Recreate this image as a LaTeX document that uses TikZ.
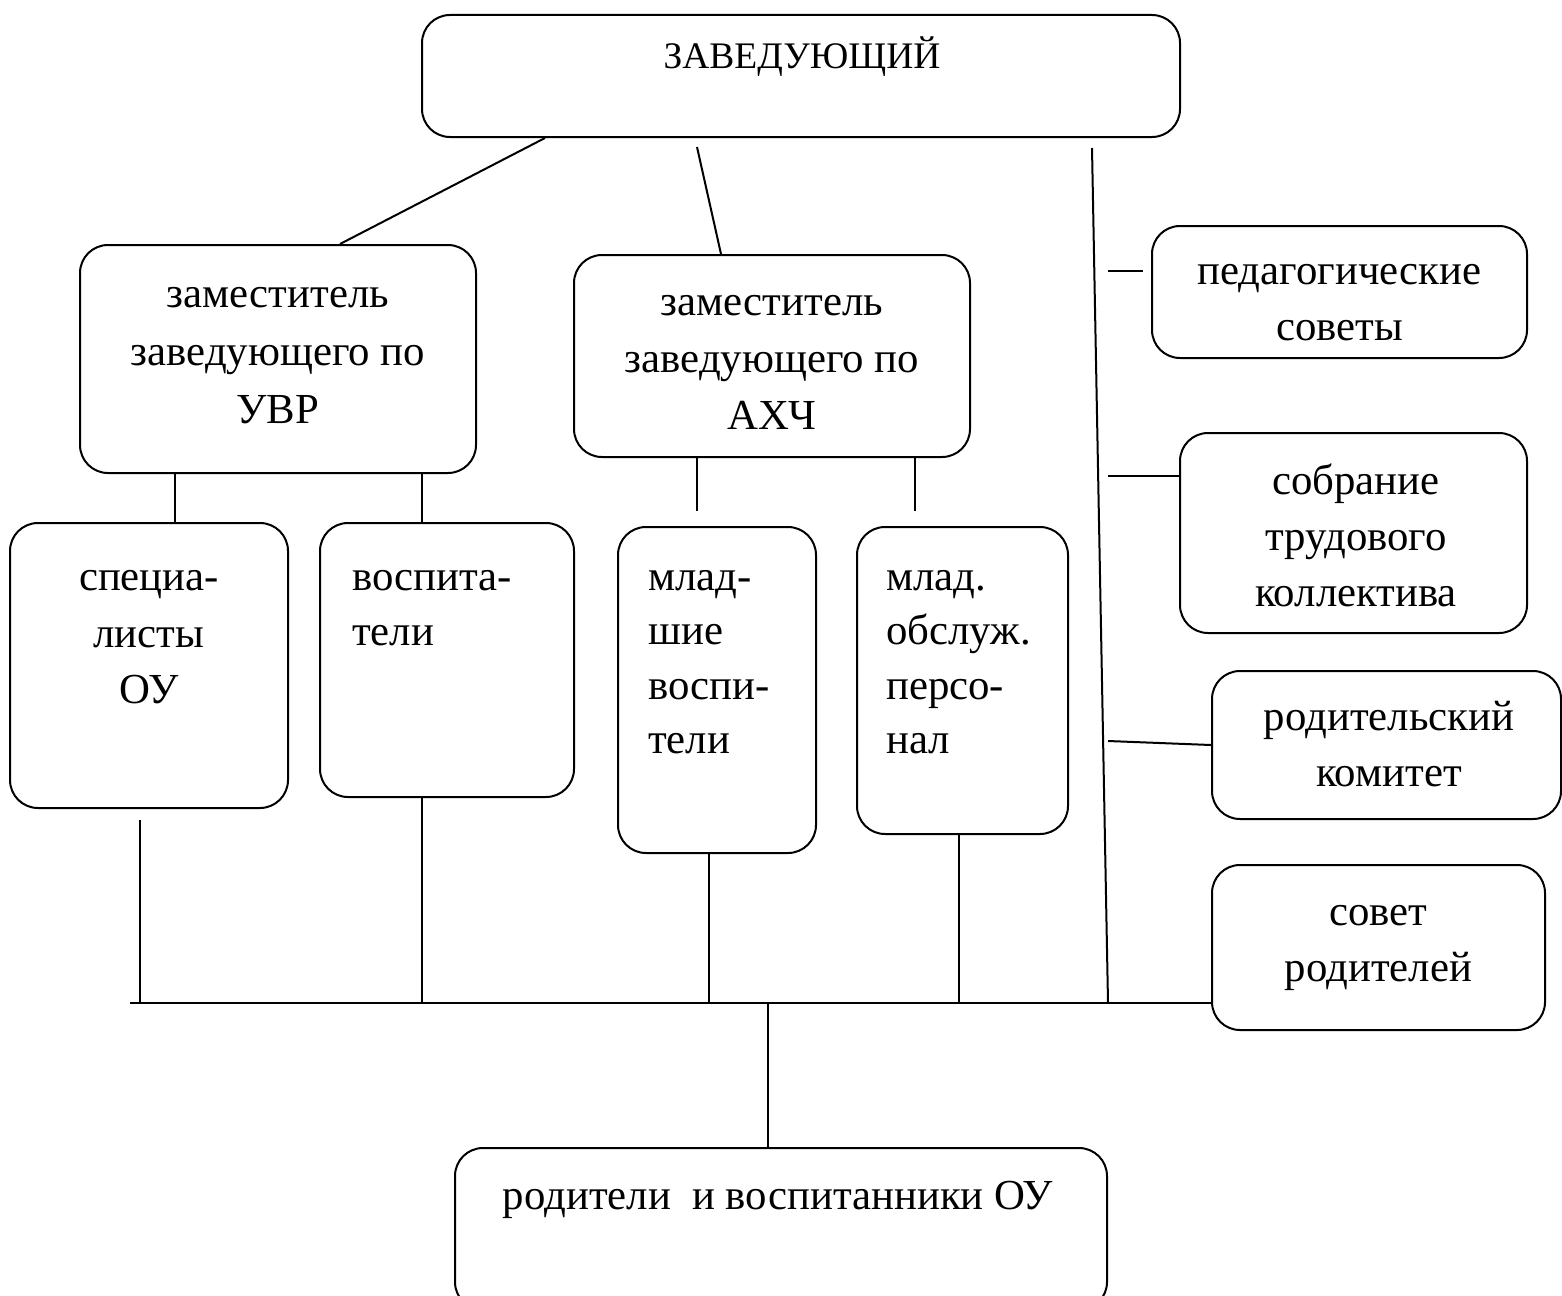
\documentclass[tikz,border=0pt]{standalone}
\usepackage{fontspec}
\setmainfont{Liberation Serif}
\begin{document}
\begin{tikzpicture}[x=1pt,y=-1pt,
  box/.style={draw,line width=2pt,rounded corners=28pt,inner sep=0pt},
  txt/.style={font=\fontsize{42.8}{#1}\selectfont,align=center,inner sep=0pt,anchor=north},
  txl/.style={font=\fontsize{42.8}{#1}\selectfont,align=left,inner sep=0pt,anchor=north west},
  ln/.style={line width=2pt}]
\useasboundingbox (0,0) rectangle (1562,1295);
% boxes
\node[box,minimum width=758pt,minimum height=122pt] (top) at (801,76) {};
\node[box,minimum width=396pt,minimum height=228pt] (uvr) at (278,359) {};
\node[box,minimum width=396pt,minimum height=202pt] (axch) at (772,356) {};
\node[box,minimum width=375pt,minimum height=132pt] (ped) at (1339.5,292) {};
\node[box,minimum width=347pt,minimum height=200pt] (sobr) at (1353.5,533) {};
\node[box,minimum width=349pt,minimum height=148pt] (rodkom) at (1386.5,745) {};
\node[box,minimum width=333pt,minimum height=165pt] (sovet) at (1378.5,947.5) {};
\node[box,minimum width=278pt,minimum height=285pt] (spec) at (149,665.5) {};
\node[box,minimum width=254pt,minimum height=274pt] (vosp) at (447,660) {};
\node[box,minimum width=198pt,minimum height=326pt] (mlad) at (717,690) {};
\node[box,minimum width=211pt,minimum height=307pt] (obsl) at (962.5,680.5) {};
\node[box,minimum width=652pt,minimum height=162pt] (bot) at (781,1229) {};
% texts
\node[txt=57,font=\fontsize{37.5}{57}\selectfont] (ttop) at (802,28) {\strut ЗАВЕДУЮЩИЙ};
\node[txt=58] (tuvr) at (278,267) {\strut заместитель\\\strut заведующего по\\\strut УВР};
\node[txt=57] (taxch) at (772,275) {\strut заместитель\\\strut заведующего по\\\strut АХЧ};
\node[txt=56] (tped) at (1339.5,245) {\strut педагогические\\\strut советы};
\node[txt=56] (tsobr) at (1356,455) {\strut собрание\\\strut трудового\\\strut коллектива};
\node[txt=56] (trodkom) at (1389,691) {\strut родительский\\\strut комитет};
\node[txt=56] (tsovet) at (1378.5,886) {\strut совет\\\strut родителей};
\node[txt=56.5] (tspec) at (149,551) {\strut специа-\\\strut листы\\\strut ОУ};
\node[txl=55] (tvosp) at (352,552) {\strut воспита-\\\strut тели};
\node[txl=54.5] (tmlad) at (648,552) {\strut млад-\\\strut шие\\\strut воспи-\\\strut тели};
\node[txl=54.5] (tobsl) at (886,552) {\strut млад.\\\strut обслуж.\\\strut персо-\\\strut нал};
\node[txt=56] (tbot) at (778,1170) {\strut родители\ \ и воспитанники ОУ};
% free-end coordinates
\coordinate (a1) at (697,147);
\coordinate (v1) at (1092,148);
\coordinate (v2) at (1108,1003);
\coordinate (p1) at (1108,271);
\coordinate (p2) at (1143,271);
\coordinate (s1) at (1108,476);
\coordinate (r1) at (1108,741);
\coordinate (hl) at (130,1003);
\coordinate (x1) at (697,511);
\coordinate (x2) at (915,511);
\coordinate (sp) at (140,820);
% connectors
\draw[ln] (top.south -| 545,0) -- (uvr.north -| 340,0);
\draw[ln] (a1) -- (axch.north -| 721,0);
\draw[ln] (v1) -- (v2);
\draw[ln] (p1) -- (p2);
\draw[ln] (s1) -- (sobr.west |- s1);
\draw[ln] (r1) -- (rodkom.west |- 0,745);
\draw[ln] (hl) -- (sovet.west |- hl);
\draw[ln] (uvr.south -| 175,0) -- (spec.north -| 175,0);
\draw[ln] (uvr.south -| 422,0) -- (vosp.north -| 422,0);
\draw[ln] (axch.south -| x1) -- (x1);
\draw[ln] (axch.south -| x2) -- (x2);
\draw[ln] (sp) -- (sp |- hl);
\draw[ln] (vosp.south -| 422,0) -- (422,0 |- hl);
\draw[ln] (mlad.south -| 709,0) -- (709,0 |- hl);
\draw[ln] (obsl.south -| 959,0) -- (959,0 |- hl);
\draw[ln] (768,0 |- hl) -- (bot.north -| 768,0);
\end{tikzpicture}
\end{document}
